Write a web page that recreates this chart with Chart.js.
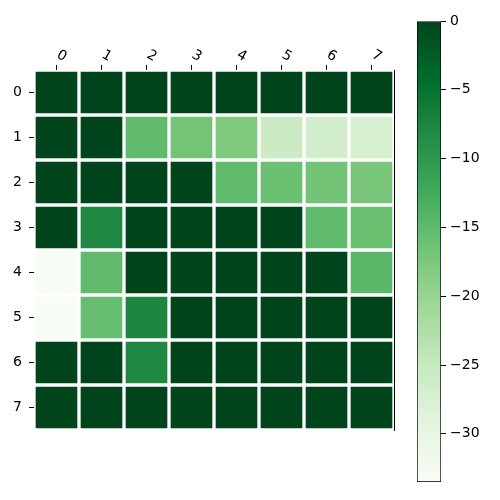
<!DOCTYPE html>
<html>
<head>
<meta charset="utf-8">
<script src="https://cdn.jsdelivr.net/npm/chart.js@4"></script>
<style>
  body { margin: 0; background: #fff; }
  #wrap { position: relative; width: 500px; height: 500px; }
  #heat { position: absolute; left: 0; top: 0; }
  #cbar { position: absolute; left: 400px; top: 0; }
</style>
</head>
<body>
<div id="wrap">
  <canvas id="heat" width="500" height="500"></canvas>
  <canvas id="cbar" width="100" height="500"></canvas>
</div>
<script>
// column / row labels
var colLabels = ["0", "1", "2", "3", "4", "5", "6", "7"];
var rowLabels = ["0", "1", "2", "3", "4", "5", "6", "7"];

// cell values, one array per row
var row0 = [0, 0, 0, 0, 0, 0, 0, 0];
var row1 = [0, 0, -15.2, -16.7, -17.7, -25.8, -26.5, -27.1];
var row2 = [0, 0, 0, 0, -15.2, -16.0, -16.6, -17.2];
var row3 = [0, -7.8, 0, 0, 0, 0, -15.2, -16.0];
var row4 = [-33.5, -15.3, 0, 0, 0, 0, 0, -14.7];
var row5 = [-33.5, -15.8, -7.7, 0, 0, 0, 0, 0];
var row6 = [0, 0, -7.8, 0, 0, 0, 0, 0];
var row7 = [0, 0, 0, 0, 0, 0, 0, 0];
var heatRows = [row0, row1, row2, row3, row4, row5, row6, row7];

// colour range and colorbar ticks
var colorMin = -33.5;
var colorMax = 0;
var colorbarTicks = [0, -5, -10, -15, -20, -25, -30];

// matplotlib "Greens"
var greensStops = [
  [247, 252, 245], [229, 245, 224], [199, 233, 192], [161, 217, 155],
  [116, 196, 118], [65, 171, 93], [35, 139, 69], [0, 109, 44], [0, 68, 27]
];

function greens(v) {
  var t = (v - colorMin) / (colorMax - colorMin);
  t = Math.max(0, Math.min(1, t));
  var n = greensStops.length - 1;
  var p = t * n;
  var i = Math.min(Math.floor(p), n - 1);
  var f = p - i;
  var a = greensStops[i], b = greensStops[i + 1];
  var c = [0, 1, 2].map(function (k) { return Math.round(a[k] + (b[k] - a[k]) * f); });
  return "rgb(" + c[0] + "," + c[1] + "," + c[2] + ")";
}

var fontTick = { family: "DejaVu Sans", size: 14 };
var minus = function (v) { return String(v).replace("-", "\u2212"); };

// heatmap: one floating-bar dataset per row
var heatSets = heatRows.map(function (row, r) {
  return {
    data: row.map(function () { return [r - 0.5, r + 0.5]; }),
    backgroundColor: row.map(function (v) { return greens(v); }),
    borderColor: "#ffffff",
    borderWidth: 2,
    borderSkipped: false,
    grouped: false,
    barPercentage: 1,
    categoryPercentage: 1,
  };
});

new Chart(document.getElementById("heat").getContext("2d"), {
  type: "bar",
  data: { labels: colLabels, datasets: heatSets },
  options: {
    responsive: false,
    animation: false,
    layout: { padding: { left: 0, top: 0, right: 106, bottom: 70 } },
    plugins: { legend: { display: false }, tooltip: { enabled: false } },
    scales: {
      x: {
        position: "top",
        grid: { offset: false, drawOnChartArea: false, drawTicks: true, tickLength: 5, color: "#000" },
        border: { display: false },
        ticks: { color: "#000", font: fontTick, minRotation: -30, maxRotation: -30, padding: 4, labelOffset: -7 },
        afterFit: function (s) { s.height = 70; },
      },
      y: {
        type: "linear",
        min: -0.5,
        max: 7.5,
        reverse: true,
        grid: { drawOnChartArea: false, drawTicks: true, tickLength: 5, color: "#000" },
        border: { display: false },
        afterBuildTicks: function (s) {
          s.ticks = rowLabels.map(function (l, i) { return { value: i }; });
        },
        ticks: {
          color: "#000", font: fontTick, padding: 7,
          callback: function (v) { return rowLabels[v]; },
        },
        afterFit: function (s) { s.width = 34; },
      },
      y2: {
        type: "linear",
        position: "right",
        min: -0.5,
        max: 7.5,
        grid: { display: false, drawTicks: false },
        border: { display: true, color: "#000", width: 1 },
        ticks: { display: false },
        afterFit: function (s) { s.width = 0; },
      },
    },
  },
});

// colorbar: one floating bar filled with the colormap gradient
new Chart(document.getElementById("cbar").getContext("2d"), {
  type: "bar",
  data: {
    labels: [""],
    datasets: [{
      data: [[colorMin, colorMax]],
      backgroundColor: function (ctx) {
        var area = ctx.chart.chartArea;
        if (!area) return greens(colorMax);
        var g = ctx.chart.ctx.createLinearGradient(0, area.bottom, 0, area.top);
        greensStops.forEach(function (c, k) {
          g.addColorStop(k / (greensStops.length - 1), "rgb(" + c.join(",") + ")");
        });
        return g;
      },
      borderColor: "#000",
      borderWidth: 1,
      borderSkipped: false,
      barPercentage: 1,
      categoryPercentage: 1,
    }],
  },
  options: {
    responsive: false,
    animation: false,
    layout: { padding: { left: 17, top: 21, right: 0, bottom: 18 } },
    plugins: { legend: { display: false }, tooltip: { enabled: false } },
    scales: {
      x: { display: false },
      y: {
        position: "right",
        min: colorMin,
        max: colorMax,
        grid: { drawOnChartArea: false, drawTicks: true, tickLength: 5, color: "#000" },
        border: { display: false },
        afterBuildTicks: function (s) {
          s.ticks = colorbarTicks.map(function (v) { return { value: v }; });
        },
        ticks: { color: "#000", font: fontTick, padding: 4, callback: minus },
        afterFit: function (s) { s.width = 59; },
      },
    },
  },
});
</script>
</body>
</html>
